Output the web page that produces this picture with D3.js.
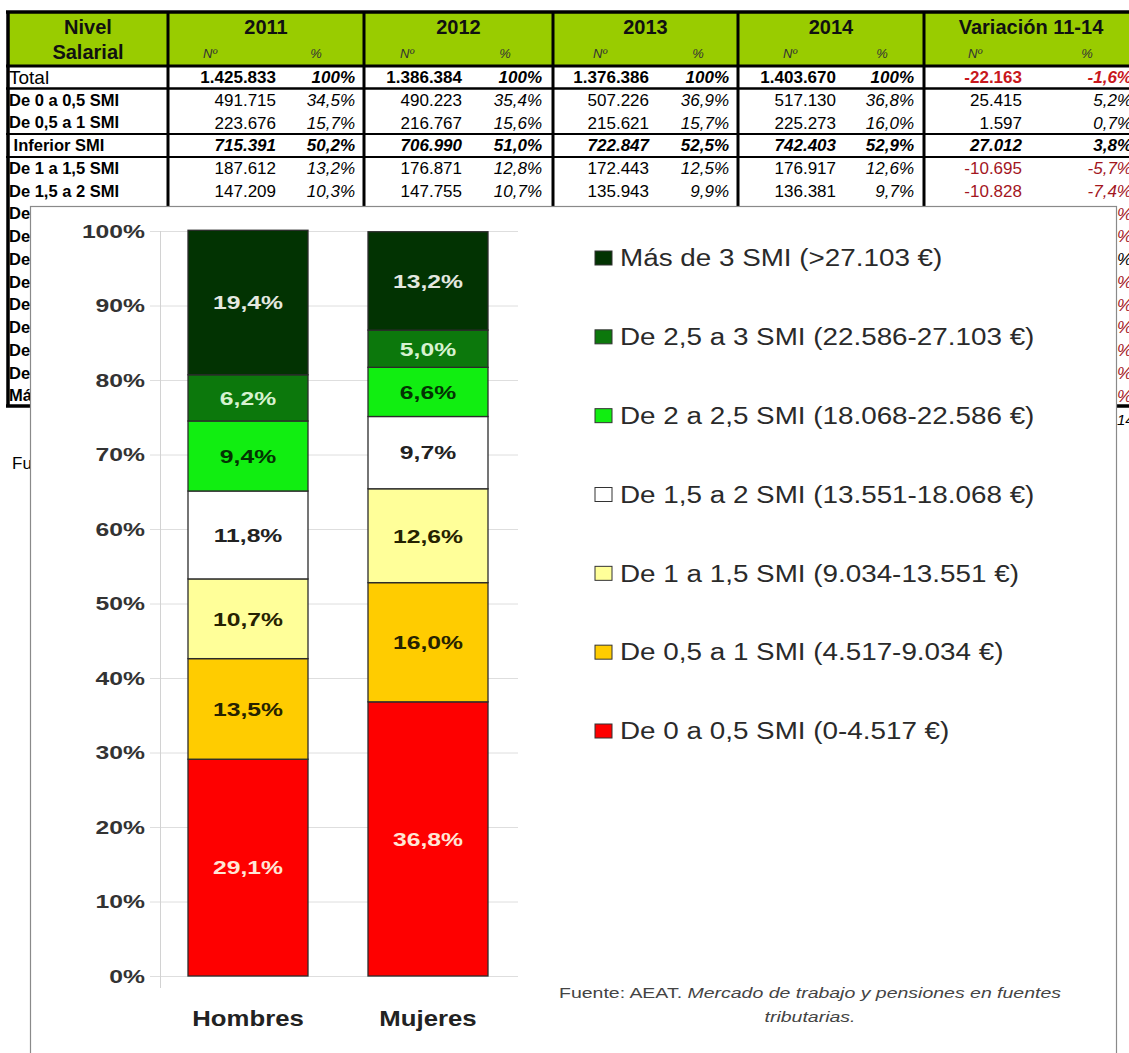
<!DOCTYPE html>
<html>
<head>
<meta charset="utf-8">
<script src="https://cdn.jsdelivr.net/npm/d3@7"></script>
<style>
  body { margin: 0; background: #fff; }
  svg { display: block; }
</style>
</head>
<body>
<svg id="fig" width="1129" height="1053"></svg>
<script>
// ---------- Tabla: asalariados por nivel salarial, 2011-2014 ----------
const tableRows = ["Total", "De 0 a 0,5 SMI", "De 0,5 a 1 SMI", " Inferior SMI", "De 1 a 1,5 SMI", "De 1,5 a 2 SMI"];
const tableGroups = ["2011", "2012", "2013", "2014", "Variación 11-14"];
const n2011 = [1425833, 491715, 223676, 715391, 187612, 147209];
const p2011 = [100, 34.5, 15.7, 50.2, 13.2, 10.3];
const n2012 = [1386384, 490223, 216767, 706990, 176871, 147755];
const p2012 = [100, 35.4, 15.6, 51.0, 12.8, 10.7];
const n2013 = [1376386, 507226, 215621, 722847, 172443, 135943];
const p2013 = [100, 36.9, 15.7, 52.5, 12.5, 9.9];
const n2014 = [1403670, 517130, 225273, 742403, 176917, 136381];
const p2014 = [100, 36.8, 16.0, 52.9, 12.6, 9.7];
const varN = [-22163, 25415, 1597, 27012, -10695, -10828];
const varP = [-1.6, 5.2, 0.7, 3.8, -5.7, -7.4];
// filas inferiores, tapadas por el gráfico (solo asoman sus bordes)
const lowerRowStubs = ["De", "De", "De", "De", "De", "De", "De", "De", "Más"];
const lowerVarSign = [-1, -1, 1, -1, -1, -1, -1, -1, -1];

// ---------- Gráfico: distribución por sexo y tramo salarial ----------
const categories = ["Hombres", "Mujeres"];
const levels = [
  "De 0 a 0,5 SMI (0-4.517 €)",
  "De 0,5 a 1 SMI (4.517-9.034 €)",
  "De 1 a 1,5 SMI (9.034-13.551 €)",
  "De 1,5 a 2 SMI (13.551-18.068 €)",
  "De 2 a 2,5 SMI (18.068-22.586 €)",
  "De 2,5 a 3 SMI (22.586-27.103 €)",
  "Más de 3 SMI (>27.103 €)"
];
const hombres = [29.1, 13.5, 10.7, 11.8, 9.4, 6.2, 19.4];
const mujeres = [36.8, 16.0, 12.6, 9.7, 6.6, 5.0, 13.2];
const yTicks = [0, 10, 20, 30, 40, 50, 60, 70, 80, 90, 100];
const levelColors = ["#fe0000", "#ffcc00", "#ffff99", "#ffffff", "#11ee11", "#0c780c", "#023302"];
const labelColors = ["#ffe6d6", "#262200", "#262200", "#222222", "#033303", "#d6f2d0", "#e4e8e0"];

const FONT = "'Liberation Sans', Arial, Helvetica, sans-serif";
const es = d3.formatLocale({ decimal: ",", thousands: ".", grouping: [3], currency: ["", " €"], minus: "-" });
const fmtN = es.format(",d");
const fmtP = v => v === 100 ? "100%" : es.format(",.1f")(v) + "%";

const svg = d3.select("#fig").attr("font-family", FONT);

// ======================= TABLA =======================
const T = svg.append("g");
const colEdges = [8, 168, 364, 553, 738, 924, 1145];
const rowY = d3.scaleLinear().domain([0, 14]).range([77, 395.5]);
const tableTop = 12, headBottom = 66, tableBottom = 406;

T.append("rect").attr("x", colEdges[0]).attr("y", tableTop)
  .attr("width", colEdges[6] - colEdges[0]).attr("height", headBottom - tableTop)
  .attr("fill", "#99cc00");

// cabecera
T.append("text").attr("x", (colEdges[0] + colEdges[1]) / 2).attr("y", 34)
  .attr("text-anchor", "middle").attr("font-weight", "bold").attr("font-size", 20).attr("fill", "#111").text("Nivel");
T.append("text").attr("x", (colEdges[0] + colEdges[1]) / 2).attr("y", 59)
  .attr("text-anchor", "middle").attr("font-weight", "bold").attr("font-size", 20).attr("fill", "#111").text("Salarial");

const subNx = [210, 407, 600, 790, 975];
const subPx = [316, 505, 698, 882, 1087];
tableGroups.forEach((g, i) => {
  T.append("text").attr("x", i === 4 ? 1031 : (colEdges[i + 1] + colEdges[i + 2]) / 2).attr("y", 34)
    .attr("text-anchor", "middle").attr("font-weight", "bold").attr("font-size", 20).attr("fill", "#111").text(g);
  T.append("text").attr("x", subNx[i]).attr("y", 58).attr("text-anchor", "middle")
    .attr("font-style", "italic").attr("font-size", 13).attr("fill", "#333").text("Nº");
  T.append("text").attr("x", subPx[i]).attr("y", 58).attr("text-anchor", "middle")
    .attr("font-style", "italic").attr("font-size", 13).attr("fill", "#333").text("%");
});

// filas visibles
const nCols = [n2011, n2012, n2013, n2014, varN];
const pCols = [p2011, p2012, p2013, p2014, varP];
const nRight = [276, 462, 649, 836, 1022];
const pRight = [355, 542, 729, 914, 1132];

tableRows.forEach((r, i) => {
  const yy = rowY(i);
  T.append("text").attr("x", 9).attr("y", yy).attr("dy", "0.36em")
    .attr("font-size", i === 0 ? 19 : 16.5).attr("font-weight", i === 0 ? "normal" : "bold")
    .attr("xml:space", "preserve").style("white-space", "pre").text(r);
  nCols.forEach((col, c) => {
    const isVar = c === 4;
    const v = col[i];
    const color = isVar && v < 0 ? (i === 0 ? "#c8171c" : "#a3161e") : "#000";
    T.append("text").attr("x", nRight[c]).attr("y", yy).attr("dy", "0.36em")
      .attr("text-anchor", "end").attr("font-size", 17).attr("fill", color)
      .attr("font-weight", i === 0 || i === 3 ? "bold" : "normal")
      .attr("font-style", i === 3 ? "italic" : "normal")
      .text(fmtN(v));
    const pv = pCols[c][i];
    T.append("text").attr("x", pRight[c]).attr("y", yy).attr("dy", "0.36em")
      .attr("text-anchor", "end").attr("font-size", 17).attr("fill", isVar && pv < 0 ? color : "#000")
      .attr("font-weight", i === 0 || i === 3 ? "bold" : "normal")
      .attr("font-style", "italic")
      .text(fmtP(pv));
  });
});

// filas inferiores
lowerRowStubs.forEach((s, k) => {
  const yy = rowY(k + 6);
  T.append("text").attr("x", 9).attr("y", yy).attr("dy", "0.36em")
    .attr("font-size", 16.5).attr("font-weight", "bold").text(s);
  T.append("text").attr("x", pRight[4]).attr("y", yy).attr("dy", "0.36em")
    .attr("text-anchor", "end").attr("font-size", 17).attr("font-style", "italic")
    .attr("fill", lowerVarSign[k] < 0 ? "#a3161e" : "#000").text("%");
});

// bordes
colEdges.slice(0, 6).forEach((x0, i) => {
  T.append("line").attr("x1", x0).attr("x2", x0).attr("y1", tableTop).attr("y2", tableBottom)
    .attr("stroke", "#000").attr("stroke-width", i === 0 ? 3.5 : 3);
});
[[tableTop, 3.5], [headBottom, 3], [88.5, 2.5], [134, 2], [157, 2], [tableBottom, 3.5]].forEach(([yy, w]) => {
  T.append("line").attr("x1", 6).attr("x2", 1129).attr("y1", yy).attr("y2", yy)
    .attr("stroke", "#000").attr("stroke-width", w);
});

// nota bajo la tabla
T.append("text").attr("x", 12).attr("y", 469).attr("font-size", 17).text("Fuente");
T.append("text").attr("x", 1117).attr("y", 425).attr("font-size", 15).attr("font-style", "italic").text("14");

// ======================= GRÁFICO =======================
const C = svg.append("g");
C.append("rect").attr("x", 30.5).attr("y", 206.5).attr("width", 1086).attr("height", 900)
  .attr("fill", "#fff").attr("stroke", "#8a8a8a").attr("stroke-width", 1.2);

const y = d3.scaleLinear().domain([0, 100]).range([976, 231]);
const x = d3.scaleBand().domain(categories).range([158, 518]).paddingInner(1 / 3).paddingOuter(1 / 6);

// rejilla
C.append("g").attr("transform", "translate(150,0)")
  .call(d3.axisLeft(y).tickValues(yTicks).tickSize(-368).tickFormat(""))
  .call(g => { g.select(".domain").remove(); g.selectAll("line").attr("stroke", "#dedede"); });
C.append("line").attr("x1", 160.5).attr("x2", 160.5).attr("y1", y(100)).attr("y2", y(0) + 12)
  .attr("stroke", "#d2d2d2");

// etiquetas del eje Y
const yAx = C.append("g").attr("transform", "translate(145,0)")
  .call(d3.axisLeft(y).tickValues(yTicks).tickSize(0).tickPadding(0).tickFormat(d => d + "%"));
yAx.select(".domain").remove();
yAx.attr("font-family", FONT).attr("font-size", 19);
yAx.selectAll("text").attr("font-weight", "bold").attr("fill", "#333").attr("transform", "scale(1.3,1)");

// barras apiladas
const rows = categories.map((c, i) => {
  const o = { cat: c };
  levels.forEach((l, j) => { o[l] = (i === 0 ? hombres : mujeres)[j]; });
  return o;
});
const series = d3.stack().keys(levels)(rows);

const segs = C.append("g").selectAll("g").data(series).join("g")
  .attr("fill", (d, k) => levelColors[k]);
segs.selectAll("rect").data(d => d).join("rect")
  .attr("x", d => x(d.data.cat))
  .attr("y", d => y(d[1]))
  .attr("width", x.bandwidth())
  .attr("height", d => y(d[0]) - y(d[1]))
  .attr("stroke", "#2b2b2b").attr("stroke-width", 1.3);

// valores dentro de cada tramo
series.forEach((s, k) => {
  s.forEach(d => {
    const v = d[1] - d[0];
    C.append("text")
      .attr("transform", `translate(${x(d.data.cat) + x.bandwidth() / 2},${y((d[0] + d[1]) / 2)}) scale(1.3,1)`)
      .attr("dy", "0.36em").attr("text-anchor", "middle")
      .attr("font-size", 19).attr("font-weight", "bold").attr("fill", labelColors[k])
      .text(es.format(",.1f")(v) + "%");
  });
});

// eje X
const xAx = C.append("g").attr("transform", `translate(0,${y(0)})`)
  .call(d3.axisBottom(x).tickSize(0).tickPadding(34));
xAx.select(".domain").remove();
xAx.attr("font-family", FONT).attr("font-size", 22);
xAx.selectAll("text").attr("font-weight", "bold").attr("fill", "#222").attr("transform", "scale(1.17,1)");

// leyenda
const legY = d3.scalePoint().domain(levels.slice().reverse()).range([258, 731]);
const leg = C.append("g").selectAll("g").data(levels).join("g")
  .attr("transform", d => `translate(0,${legY(d)})`);
leg.append("rect").attr("x", 595).attr("y", -7).attr("width", 17).attr("height", 14)
  .attr("fill", (d, k) => levelColors[k]).attr("stroke", "#333").attr("stroke-width", 1);
leg.append("text").attr("transform", "translate(620,0) scale(1.21,1)").attr("dy", "0.36em")
  .attr("font-size", 23).attr("fill", "#2a2a2a").text(d => d);

// fuente
const src = C.append("text").attr("transform", "translate(810,998) scale(1.3,1)")
  .attr("text-anchor", "middle").attr("font-size", 15).attr("fill", "#444");
src.append("tspan").text("Fuente: AEAT. ");
src.append("tspan").attr("font-style", "italic").text("Mercado de trabajo y pensiones en fuentes");
C.append("text").attr("transform", "translate(810,1022) scale(1.3,1)")
  .attr("text-anchor", "middle").attr("font-size", 15).attr("fill", "#444")
  .attr("font-style", "italic").text("tributarias.");
</script>
</body>
</html>
